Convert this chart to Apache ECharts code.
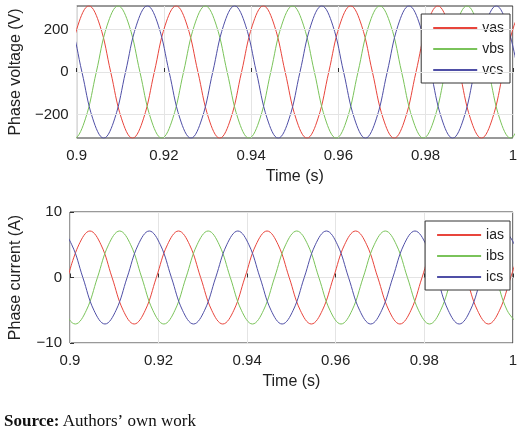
<!DOCTYPE html>
<html><head><meta charset="utf-8">
<script src="https://cdn.jsdelivr.net/npm/echarts@6/dist/echarts.min.js"></script>
<style>body{margin:0;background:#fff}#c{width:520px;height:440px}</style>
</head><body><div id="c"></div>
<script>
// Points (every eighth of a cycle)
const vasT=[0.8978,0.9003,0.9028,0.9053,0.9078,0.9103,0.9128,0.9153,0.9178,0.9203,0.9228,0.9253,0.9278,0.9303,0.9328,0.9353,0.9378,0.9403,0.9428,0.9453,0.9478,0.9503,0.9528,0.9553,0.9578,0.9603,0.9628,0.9653,0.9678,0.9703,0.9728,0.9753,0.9778,0.9803,0.9828,0.9853,0.9878,0.9903,0.9928,0.9953,0.9978,1.0003,1.0028];
const vasV=[0,220,311,220,0,-220,-311,-220,0,220,311,220,0,-220,-311,-220,0,220,311,220,0,-220,-311,-220,0,220,311,220,0,-220,-311,-220,0,220,311,220,0,-220,-311,-220,0,220,311];
const vbsT=[0.8945,0.8970,0.8995,0.9020,0.9045,0.9070,0.9095,0.9120,0.9145,0.9170,0.9195,0.9220,0.9245,0.9270,0.9295,0.9320,0.9345,0.9370,0.9395,0.9420,0.9445,0.9470,0.9495,0.9520,0.9545,0.9570,0.9595,0.9620,0.9645,0.9670,0.9695,0.9720,0.9745,0.9770,0.9795,0.9820,0.9845,0.9870,0.9895,0.9920,0.9945,0.9970,0.9995,1.0020];
const vbsV=[0,-220,-311,-220,0,220,311,220,0,-220,-311,-220,0,220,311,220,0,-220,-311,-220,0,220,311,220,0,-220,-311,-220,0,220,311,220,0,-220,-311,-220,0,220,311,220,0,-220,-311,-220];
const vcsT=[0.8912,0.8937,0.8962,0.8987,0.9012,0.9037,0.9062,0.9087,0.9112,0.9137,0.9162,0.9187,0.9212,0.9237,0.9262,0.9287,0.9312,0.9337,0.9362,0.9387,0.9412,0.9437,0.9462,0.9487,0.9512,0.9537,0.9562,0.9587,0.9612,0.9637,0.9662,0.9687,0.9712,0.9737,0.9762,0.9787,0.9812,0.9837,0.9862,0.9887,0.9912,0.9937,0.9962,0.9987,1.0012];
const vcsV=[0,220,311,220,0,-220,-311,-220,0,220,311,220,0,-220,-311,-220,0,220,311,220,0,-220,-311,-220,0,220,311,220,0,-220,-311,-220,0,220,311,220,0,-220,-311,-220,0,220,311,220,0];
const iasT=[0.8995,0.9020,0.9045,0.9070,0.9095,0.9120,0.9145,0.9170,0.9195,0.9220,0.9245,0.9270,0.9295,0.9320,0.9345,0.9370,0.9395,0.9420,0.9445,0.9470,0.9495,0.9520,0.9545,0.9570,0.9595,0.9620,0.9645,0.9670,0.9695,0.9720,0.9745,0.9770,0.9795,0.9820,0.9845,0.9870,0.9895,0.9920,0.9945,0.9970,0.9995,1.0020];
const iasV=[0,5,7.1,5,0,-5,-7.1,-5,0,5,7.1,5,0,-5,-7.1,-5,0,5,7.1,5,0,-5,-7.1,-5,0,5,7.1,5,0,-5,-7.1,-5,0,5,7.1,5,0,-5,-7.1,-5,0,5];
const ibsT=[0.8962,0.8987,0.9012,0.9037,0.9062,0.9087,0.9112,0.9137,0.9162,0.9187,0.9212,0.9237,0.9262,0.9287,0.9312,0.9337,0.9362,0.9387,0.9412,0.9437,0.9462,0.9487,0.9512,0.9537,0.9562,0.9587,0.9612,0.9637,0.9662,0.9687,0.9712,0.9737,0.9762,0.9787,0.9812,0.9837,0.9862,0.9887,0.9912,0.9937,0.9962,0.9987,1.0012];
const ibsV=[0,-5,-7.1,-5,0,5,7.1,5,0,-5,-7.1,-5,0,5,7.1,5,0,-5,-7.1,-5,0,5,7.1,5,0,-5,-7.1,-5,0,5,7.1,5,0,-5,-7.1,-5,0,5,7.1,5,0,-5,-7.1];
const icsT=[0.8929,0.8954,0.8979,0.9004,0.9029,0.9054,0.9079,0.9104,0.9129,0.9154,0.9179,0.9204,0.9229,0.9254,0.9279,0.9304,0.9329,0.9354,0.9379,0.9404,0.9429,0.9454,0.9479,0.9504,0.9529,0.9554,0.9579,0.9604,0.9629,0.9654,0.9679,0.9704,0.9729,0.9754,0.9779,0.9804,0.9829,0.9854,0.9879,0.9904,0.9929,0.9954,0.9979,1.0004];
const icsV=[0,5,7.1,5,0,-5,-7.1,-5,0,5,7.1,5,0,-5,-7.1,-5,0,5,7.1,5,0,-5,-7.1,-5,0,5,7.1,5,0,-5,-7.1,-5,0,5,7.1,5,0,-5,-7.1,-5,0,5,7.1,5];
const xTicks=[0.9,0.92,0.94,0.96,0.98,1];
const vTicks=[-200,0,200];
const iTicks=[-10,0,10];

const RED='#e8453c',GREEN='#7ac35a',BLUE='#4f4fa6';
const zip=(t,v)=>t.map((x,i)=>[x,v[i]]);
const F='Liberation Sans, Arial, sans-serif';
const fmt=ticks=>v=>{const r=+v.toFixed(2);return ticks.includes(r)?(r<0?'\u2212'+(-r):String(r)):'';};
function xAx(g){return {type:'value',gridIndex:g,min:0.9,max:1,interval:0.02,
 name:'Time (s)',nameLocation:'middle',nameGap:31,nameTextStyle:{fontSize:16,color:'#222',fontFamily:F},
 axisLine:{show:false},axisTick:{inside:true,length:4,lineStyle:{color:'#333'}},
 axisLabel:{fontSize:15,color:'#222',fontFamily:F,margin:10,formatter:fmt(xTicks)},
 splitLine:{show:true,lineStyle:{color:'#e4e4e4'}}};}
function yAx(g,min,max,iv,name,ticks,split){return {type:'value',gridIndex:g,min:min,max:max,interval:iv,
 name:name,nameLocation:'middle',nameGap:46,nameTextStyle:{fontSize:16,color:'#222',fontFamily:F},
 axisLine:{show:false},axisTick:{show:split,inside:true,length:4,lineStyle:{color:'#333'}},
 axisLabel:{fontSize:15,color:'#222',fontFamily:F,formatter:fmt(ticks)},
 splitLine:{show:split,lineStyle:{color:'#e4e4e4'}}};}
function ser(name,t,v,c,g){return {name:name,type:'line',xAxisIndex:g,yAxisIndex:g,data:zip(t,v),smooth:0.4,
 showSymbol:false,lineStyle:{width:1,color:c},itemStyle:{color:c},clip:true,z:3};}
const legendBase={orient:'vertical',right:10,itemWidth:44,itemHeight:2,itemGap:7,
 backgroundColor:'#fff',borderColor:'#333',borderWidth:1,padding:[7,6,6,12],
 textStyle:{fontSize:14,color:'#222',fontFamily:F},icon:'rect'};
const chart=echarts.init(document.getElementById('c'));
chart.setOption({
 animation:false,
 grid:[{left:67,right:7,top:6,height:132,show:true,borderColor:'#333',borderWidth:1},
       {left:67,right:7,top:212,height:131,show:true,borderColor:'#333',borderWidth:1}],
 xAxis:[xAx(0),xAx(1)],
 yAxis:[yAx(0,-310,310,10,'Phase voltage (V)',vTicks,false),yAx(1,-10,10,10,'Phase current (A)',iTicks,true)],
 legend:[Object.assign({},legendBase,{top:14,data:['vas','vbs','vcs']}),
         Object.assign({},legendBase,{top:221,data:['ias','ibs','ics']})],
 graphic:[{type:'text',left:4,top:413,style:{rich:{b:{fontWeight:'bold',fontSize:17,fontFamily:'Liberation Serif, serif',fill:'#111'},n:{fontSize:17,fontFamily:'Liberation Serif, serif',fill:'#111'}},text:'{b|Source:} {n|Authors\u2019 own work}'}}],
 series:[{name:'grid',type:'line',xAxisIndex:0,yAxisIndex:0,data:[],z:1,
          markLine:{silent:true,symbol:'none',label:{show:false},lineStyle:{color:'#e4e4e4',type:'solid',width:1},
                    data:vTicks.map(v=>({yAxis:v}))}},
         ser('vas',vasT,vasV,RED,0),ser('vbs',vbsT,vbsV,GREEN,0),ser('vcs',vcsT,vcsV,BLUE,0),
         ser('ias',iasT,iasV,RED,1),ser('ibs',ibsT,ibsV,GREEN,1),ser('ics',icsT,icsV,BLUE,1)]
});
</script></body></html>
